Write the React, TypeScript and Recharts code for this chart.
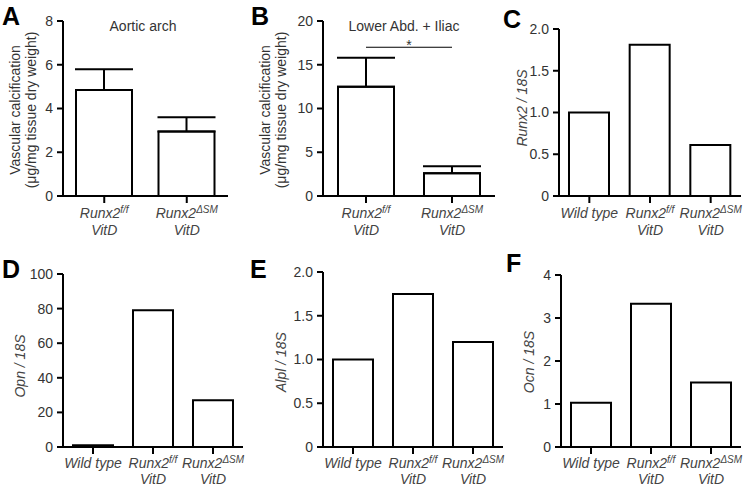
import React from 'react';
import { BarChart, Bar, XAxis, YAxis, ErrorBar, ReferenceLine } from 'recharts';

// ---- categories / tick labels ----
const groupKeys = ['Wild type', 'Runx2f/f VitD', 'Runx2ΔSM VitD'];
const tickLine1 = ['Wild type', 'Runx2', 'Runx2'];
const tickSup = ['', 'f/f', 'ΔSM'];
const tickLine2 = ['', 'VitD', 'VitD'];
const groupsVitD = ['Runx2f/f VitD', 'Runx2ΔSM VitD'];

// ---- series values ----
const aorticMean = [4.85, 2.95];
const aorticSem = [0.95, 0.65];
const iliacMean = [12.5, 2.6];
const iliacSem = [3.3, 0.8];
const runx2Rel = [1.0, 1.81, 0.61];
const opnRel = [1.0, 79, 27];
const alplRel = [1.0, 1.75, 1.2];
const ocnRel = [1.03, 3.33, 1.5];
const significanceLevel = 17;

// ---- y ticks ----
const ticksA = [0, 2, 4, 6, 8];
const ticksB = [0, 5, 10, 15, 20];
const ticksC = [0, 0.5, 1, 1.5, 2];
const ticksD = [0, 20, 40, 60, 80, 100];
const ticksE = [0, 0.5, 1, 1.5, 2];
const ticksF = [0, 1, 2, 3, 4];

const dataA = groupsVitD.map((g, i) => ({ group: g, value: aorticMean[i], err: [0, aorticSem[i]] }));
const dataB = groupsVitD.map((g, i) => ({ group: g, value: iliacMean[i], err: [0, iliacSem[i]] }));
const mk = (vals: number[]) => groupKeys.map((g, i) => ({ group: g, value: vals[i] }));
const dataC = mk(runx2Rel);
const dataD = mk(opnRel);
const dataE = mk(alplRel);
const dataF = mk(ocnRel);

const FONT = '"Liberation Sans", Arial, Helvetica, sans-serif';
const TXT = '#333';
const ITXT = '#444';

const CategoryTick = (props: any) => {
  const { x, y, payload, gap1, gap2 } = props;
  const i = groupKeys.indexOf(payload.value);
  return (
    <g>
      <text x={x} y={y + (gap1 ?? 15)} textAnchor="middle" fontStyle="italic" fontWeight={400} fontSize={14} fill={ITXT} fontFamily={FONT}>
        {tickLine1[i]}
        {tickSup[i] ? (
          <tspan dy={-5} fontSize={10}>
            {tickSup[i]}
          </tspan>
        ) : null}
      </text>
      {tickLine2[i] ? (
        <text x={x} y={y + (gap2 ?? 32)} textAnchor="middle" fontStyle="italic" fontWeight={400} fontSize={14} fill={ITXT} fontFamily={FONT}>
          {tickLine2[i]}
        </text>
      ) : null}
    </g>
  );
};

const fmt1 = (v: number) => (v === 0 ? '0' : v.toFixed(1));
const axisLine = { stroke: '#000', strokeWidth: 2 };
const tickLine = { stroke: '#000', strokeWidth: 2 };
const tickStyle = { fill: TXT, fontSize: 14, fontFamily: FONT };

type PanelProps = {
  left: number;
  top: number;
  width: number;
  height: number;
  data: any[];
  yWidth: number;
  mTop: number;
  mRight: number;
  xHeight: number;
  gap1: number;
  gap2: number;
  domain: [number, number];
  ticks: number[];
  barSize: number;
  decimals?: boolean;
  withErr?: boolean;
  children?: React.ReactNode;
};

const Panel = (p: PanelProps) => (
  <div style={{ position: 'absolute', left: p.left, top: p.top }}>
    <BarChart
      width={p.width}
      height={p.height}
      data={p.data}
      margin={{ top: p.mTop, right: p.mRight, bottom: 0, left: 0 }}
      barCategoryGap={0}
    >
      <XAxis
        dataKey="group"
        type="category"
        height={p.xHeight}
        axisLine={axisLine}
        tickLine={tickLine}
        tickSize={7}
        tickMargin={0}
        interval={0}
        tick={<CategoryTick gap1={p.gap1} gap2={p.gap2} />}
      />
      <YAxis
        type="number"
        width={p.yWidth}
        domain={p.domain}
        ticks={p.ticks}
        interval={0}
        axisLine={axisLine}
        tickLine={tickLine}
        tickSize={6}
        tickMargin={4}
        tick={tickStyle}
        tickFormatter={p.decimals ? fmt1 : (v: number) => String(v)}
      />
      <Bar dataKey="value" fill="#fff" stroke="#000" strokeWidth={2} barSize={p.barSize} isAnimationActive={false}>
        {p.withErr ? (
          <ErrorBar dataKey="err" width={29} stroke="#000" strokeWidth={2} direction="y" />
        ) : null}
      </Bar>
      {p.children}
    </BarChart>
  </div>
);

const letterStyle = { fontFamily: FONT, fontWeight: 700, fontSize: 25, fill: '#000' } as const;
const titleStyle = { fontFamily: FONT, fontSize: 14, fill: TXT } as const;

const YTitle2 = ({ x1, x2, cy }: { x1: number; x2: number; cy: number }) => (
  <g>
    <text transform={`translate(${x1},${cy}) rotate(-90)`} textAnchor="middle" style={titleStyle}>
      Vascular calcification
    </text>
    <text transform={`translate(${x2},${cy}) rotate(-90)`} textAnchor="middle" style={titleStyle}>
      (μg/mg tissue dry weight)
    </text>
  </g>
);

const YTitleIt = ({ x, cy, label }: { x: number; cy: number; label: string }) => (
  <text transform={`translate(${x},${cy}) rotate(-90)`} textAnchor="middle" style={{ ...titleStyle, fill: ITXT }} fontStyle="italic">
    {label}
  </text>
);

export default function App() {
  return (
    <div style={{ position: 'absolute', left: 0, top: 0, width: 747, height: 486, background: '#fff', fontFamily: FONT }}>
      <Panel left={0} top={0} width={240} height={240} data={dataA} yWidth={63} mTop={21} mRight={12} xHeight={44} gap1={15} gap2={32}
        domain={[0, 8]} ticks={ticksA} barSize={56} withErr />
      <Panel left={250} top={0} width={250} height={240} data={dataB} yWidth={73} mTop={21} mRight={5} xHeight={44} gap1={15} gap2={32}
        domain={[0, 20]} ticks={ticksB} barSize={56} withErr>
        <ReferenceLine
          segment={[{ x: groupsVitD[0], y: significanceLevel }, { x: groupsVitD[1], y: significanceLevel }]}
          stroke="#000"
          strokeWidth={1.2}
          ifOverflow="visible"
          label={{ value: '*', position: 'top', offset: -3, fill: TXT, fontSize: 14, fontFamily: FONT }}
        />
      </Panel>
      <Panel left={497} top={0} width={250} height={240} data={dataC} yWidth={62} mTop={29} mRight={6} xHeight={44} gap1={15} gap2={32}
        domain={[0, 2]} ticks={ticksC} barSize={40} decimals />
      <Panel left={0} top={240} width={250} height={246} data={dataD} yWidth={63} mTop={34} mRight={7} xHeight={39} gap1={14} gap2={30}
        domain={[0, 100]} ticks={ticksD} barSize={40} />
      <Panel left={250} top={240} width={255} height={246} data={dataE} yWidth={73} mTop={32} mRight={2} xHeight={39} gap1={14} gap2={30}
        domain={[0, 2]} ticks={ticksE} barSize={40} decimals />
      <Panel left={497} top={240} width={250} height={246} data={dataF} yWidth={64} mTop={35} mRight={6} xHeight={39} gap1={14} gap2={30}
        domain={[0, 4]} ticks={ticksF} barSize={40} />

      <svg width={747} height={486} style={{ position: 'absolute', left: 0, top: 0, pointerEvents: 'none' }}>
        <text x={2} y={25} style={letterStyle}>A</text>
        <text x={251} y={25} style={letterStyle}>B</text>
        <text x={503} y={28} style={letterStyle}>C</text>
        <text x={2} y={278} style={letterStyle}>D</text>
        <text x={250} y={278} style={letterStyle}>E</text>
        <text x={506} y={272} style={letterStyle}>F</text>

        <text x={143} y={31} textAnchor="middle" style={titleStyle}>Aortic arch</text>
        <text x={404} y={31} textAnchor="middle" style={titleStyle}>Lower Abd. + Iliac</text>

        <YTitle2 x1={20} x2={36} cy={110} />
        <YTitle2 x1={270} x2={286} cy={110} />
        <YTitleIt x={527} cy={108} label="Runx2 / 18S" />
        <YTitleIt x={25} cy={366} label="Opn / 18S" />
        <YTitleIt x={286} cy={362} label="Alpl / 18S" />
        <YTitleIt x={534} cy={362} label="Ocn / 18S" />
      </svg>
    </div>
  );
}
